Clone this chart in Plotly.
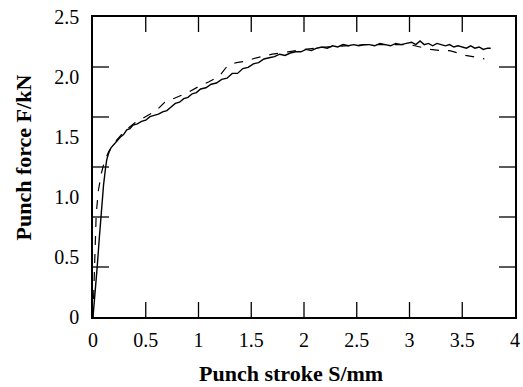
import plotly.graph_objects as go

# Solid curve (measured)
solid_x = [0.0, 0.02, 0.04, 0.06, 0.08, 0.10, 0.12, 0.13, 0.15, 0.17, 0.20, 0.23, 0.26, 0.29, 0.32,
           0.35, 0.38, 0.42, 0.46, 0.50, 0.54, 0.58, 0.62, 0.66, 0.70, 0.74, 0.78, 0.82, 0.86,
           0.90, 0.94, 0.98, 1.02, 1.07, 1.12, 1.17, 1.22, 1.27, 1.32, 1.37, 1.42, 1.47, 1.52,
           1.57, 1.62, 1.67, 1.72, 1.77, 1.82, 1.87, 1.92, 1.97, 2.02, 2.07, 2.12, 2.17, 2.22,
           2.27, 2.32, 2.37, 2.42, 2.47, 2.52, 2.57, 2.62, 2.67, 2.72, 2.77, 2.82, 2.87, 2.92,
           2.97, 3.02, 3.06, 3.10, 3.14, 3.18, 3.22, 3.26, 3.30, 3.34, 3.38, 3.42, 3.46, 3.50,
           3.54, 3.58, 3.62, 3.66, 3.70, 3.74, 3.77]
solid_y = [0.0, 0.18, 0.42, 0.66, 0.90, 1.10, 1.25, 1.31, 1.37, 1.41, 1.44, 1.47, 1.50, 1.52, 1.56,
           1.57, 1.60, 1.61, 1.63, 1.64, 1.67, 1.68, 1.69, 1.71, 1.72, 1.75, 1.78, 1.79, 1.82,
           1.83, 1.86, 1.87, 1.90, 1.91, 1.94, 1.95, 1.98, 1.99, 2.03, 2.03, 2.07, 2.08, 2.11,
           2.12, 2.15, 2.16, 2.17, 2.19, 2.18, 2.20, 2.21, 2.21, 2.23, 2.22, 2.24, 2.25, 2.24,
           2.26, 2.25, 2.27, 2.26, 2.27, 2.26, 2.27, 2.27, 2.26, 2.28, 2.27, 2.26, 2.28, 2.27,
           2.28, 2.29, 2.27, 2.30, 2.27, 2.28, 2.26, 2.28, 2.27, 2.26, 2.27, 2.25, 2.26, 2.25,
           2.24, 2.26, 2.24, 2.25, 2.23, 2.24, 2.24]

# Dashed curve (measured)
dash_x = [0.0, 0.01, 0.02, 0.03, 0.05, 0.08, 0.11, 0.15, 0.22, 0.30, 0.40, 0.50, 0.60, 0.68, 0.80,
          0.90, 1.00, 1.10, 1.20, 1.28, 1.36, 1.44, 1.55, 1.70, 1.85, 2.00, 2.20, 2.40, 2.60,
          2.80, 3.00, 3.10, 3.20, 3.30, 3.38, 3.46, 3.53, 3.60, 3.66, 3.71]
dash_y = [0.0, 0.30, 0.60, 0.85, 1.05, 1.20, 1.30, 1.38, 1.47, 1.55, 1.62, 1.67, 1.72, 1.79, 1.83,
          1.87, 1.92, 1.96, 2.01, 2.10, 2.12, 2.13, 2.16, 2.19, 2.21, 2.23, 2.25, 2.26, 2.27,
          2.27, 2.27, 2.25, 2.23, 2.22, 2.22, 2.20, 2.18, 2.17, 2.16, 2.15]

x_ticks = [0, 0.5, 1, 1.5, 2, 2.5, 3, 3.5, 4]
x_tick_text = ["0", "0.5", "1", "1.5", "2", "2.5", "3", "3.5", "4"]
y_label_vals = [0, 0.5, 1.0, 1.5, 2.0, 2.5]
y_label_text = ["0", "0.5", "1.0", "1.5", "2.0", "2.5"]
y_tick_marks = [5 / 12 * k for k in range(1, 6)]

FONT = "Liberation Serif"
TICK_LEN_X = 0.05    # fraction of plot height
TICK_LEN_Y = 0.038   # fraction of plot width
TICK_LINE = dict(color="black", width=1.3)

fig = go.Figure()
fig.add_trace(go.Scatter(x=dash_x, y=dash_y, mode="lines",
                         line=dict(color="black", width=1.2, dash="dash"), showlegend=False))
fig.add_trace(go.Scatter(x=solid_x, y=solid_y, mode="lines",
                         line=dict(color="black", width=1.4), showlegend=False))

# inward tick marks on all four sides, placed from the tick arrays
for v in x_ticks[1:-1]:
    fig.add_shape(type="line", xref="x", yref="paper", x0=v, x1=v, y0=0, y1=TICK_LEN_X, line=TICK_LINE)
    fig.add_shape(type="line", xref="x", yref="paper", x0=v, x1=v, y0=1, y1=1 - TICK_LEN_X, line=TICK_LINE)
for v in y_tick_marks:
    fig.add_shape(type="line", xref="paper", yref="y", x0=0, x1=TICK_LEN_Y, y0=v, y1=v, line=TICK_LINE)
    fig.add_shape(type="line", xref="paper", yref="y", x0=1, x1=1 - TICK_LEN_Y, y0=v, y1=v, line=TICK_LINE)

fig.update_layout(
    template="none",
    width=523, height=387,
    margin=dict(l=93, r=8, t=17, b=70),
    paper_bgcolor="white", plot_bgcolor="white",
    font=dict(family=FONT, color="black", size=20),
    xaxis=dict(range=[0, 4], tickmode="array", tickvals=x_ticks, ticktext=x_tick_text,
               ticks="", showline=True, linecolor="black", linewidth=1.5, mirror=True,
               showgrid=False, zeroline=False, tickfont=dict(size=20, family=FONT),
               ticklabelstandoff=4),
    yaxis=dict(range=[0, 2.5], tickmode="array", tickvals=y_label_vals, ticktext=y_label_text,
               ticks="", showline=True, linecolor="black", linewidth=1.5, mirror=True,
               showgrid=False, zeroline=False, tickfont=dict(size=20, family=FONT),
               ticklabelstandoff=8),
    annotations=[
        dict(text="<b>Punch stroke S/mm</b>", xref="paper", yref="paper",
             x=0.469, y=-0.187, xanchor="center", yanchor="middle", showarrow=False,
             font=dict(family=FONT, size=22, color="black")),
        dict(text="<b>Punch force F/kN</b>", xref="paper", yref="paper",
             x=-0.167, y=0.53, xanchor="center", yanchor="middle", showarrow=False,
             textangle=-90, font=dict(family=FONT, size=22, color="black")),
    ],
)

fig.write_html("out.html")
